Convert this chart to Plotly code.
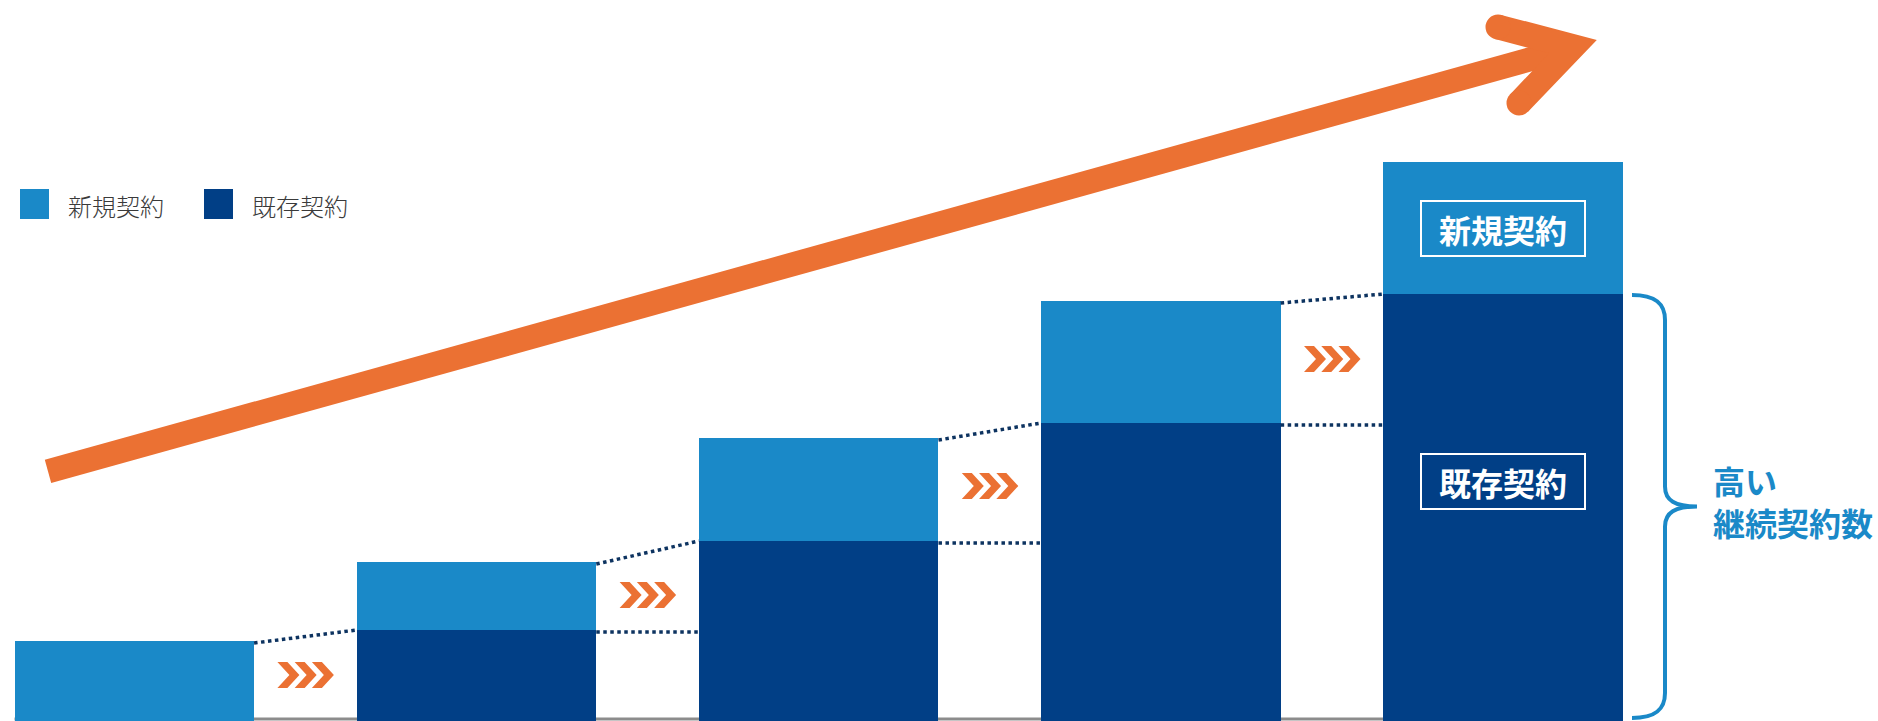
import plotly.graph_objects as go

# ---- data ----
stages = ["1", "2", "3", "4", "5"]
existing = [0, 91, 180, 298, 427]      # 既存契約
new = [80, 68, 103, 122, 132]          # 新規契約
legend_labels = ["新規契約", "既存契約"]
bar_labels = ["新規契約", "既存契約"]
brace_label = "高い<br>継続契約数"

# ---- style / layout constants ----
W, H = 1878, 721
LIGHT = "#1A89C8"
DARK = "#013F86"
ORANGE = "#EB7133"
DOT = "#0D3360"
FONT = "Noto Sans CJK JP"
BAR_W = 0.7
X0_PX, STEP_PX = 134.3, 342.2
chevron_y = [46, 126, 235, 362]

def px(x):
    return x / W

def py(y):
    return 1 - y / H

def P(x, y):
    return f"{px(x):.6f},{py(y):.6f}"

fig = go.Figure()
fig.add_trace(go.Bar(x=list(range(5)), y=existing, name=legend_labels[1],
                     marker=dict(color=DARK, line=dict(width=0)), width=BAR_W,
                     hoverinfo="skip"))
fig.add_trace(go.Bar(x=list(range(5)), y=new, name=legend_labels[0],
                     marker=dict(color=LIGHT, line=dict(width=0)), width=BAR_W,
                     hoverinfo="skip"))

shapes = []
annotations = []
half = BAR_W / 2
totals = [e + n for e, n in zip(existing, new)]

# baseline
shapes.append(dict(type="line", xref="x", yref="y", x0=-half, x1=len(stages) - 1 + half,
                   y0=2, y1=2, line=dict(color="#8C8C8C", width=3), layer="below"))

# dotted connectors
for i in range(len(stages) - 1):
    shapes.append(dict(type="line", xref="x", yref="y", x0=i + half, x1=i + 1 - half,
                       y0=totals[i] - 2, y1=existing[i + 1],
                       line=dict(color=DOT, width=3.5, dash="3.5px,3.5px")))
    if existing[i] > 0:
        shapes.append(dict(type="line", xref="x", yref="y", x0=i + half, x1=i + 1 - half,
                           y0=existing[i] - 2, y1=existing[i] - 2,
                           line=dict(color=DOT, width=3.5, dash="3.5px,3.5px")))

# chevrons ">>>"
for i in range(len(stages) - 1):
    parts = []
    for k in range(3):
        ox = -28 + 17.25 * k
        pts = [(ox, 13), (ox + 10, 13), (ox + 22, 0), (ox + 10, -13), (ox, -13), (ox + 12, 0)]
        parts.append("M" + " L".join(f"{a:.2f},{b:.2f}" for a, b in pts) + " Z")
    shapes.append(dict(type="path", xref="x", yref="y", xsizemode="pixel", ysizemode="pixel",
                       xanchor=i + 0.5, yanchor=chevron_y[i], path=" ".join(parts),
                       fillcolor=ORANGE, line=dict(width=0)))

# big orange arrow (decoration, pixel geometry)
slope = -0.278
def cy(x):
    return 95.5 + slope * (x - 1400)
nx, ny = 0.2678, 0.9635
h = 12
c0 = (48, cy(48))
c1 = (1562, cy(1562))
shaft = [(c0[0] - h * nx, c0[1] - h * ny), (c1[0] - h * nx, c1[1] - h * ny),
         (c1[0] + h * nx, c1[1] + h * ny), (c0[0] + h * nx, c0[1] + h * ny)]
shapes.append(dict(type="path", xref="paper", yref="paper",
                   path="M" + " L".join(P(*p) for p in shaft) + " Z",
                   fillcolor=ORANGE, line=dict(width=0)))
head = [(1501.2, 14.9), (1596.8, 39.9), (1528.0, 111.7), (1510.0, 94.4), (1549.2, 53.3), (1494.9, 39.1)]
shapes.append(dict(type="path", xref="paper", yref="paper",
                   path="M" + " L".join(P(*p) for p in head) + " Z",
                   fillcolor=ORANGE, line=dict(width=0)))
for ex, ey in [(1498, 27), (1519, 103)]:
    r = 12.5
    shapes.append(dict(type="circle", xref="paper", yref="paper",
                       x0=px(ex - r), x1=px(ex + r), y0=py(ey + r), y1=py(ey - r),
                       fillcolor=ORANGE, line=dict(width=0)))

# curly brace from top of existing (last bar) to base
top = existing[-1] - 1
bot = 3
mid = (top + bot) / 2
xa, xb, xc = px(1632), px(1665), px(1697)
brace = (f"M{xa},{top} C{px(1655)},{top} {xb},{top - 8} {xb},{top - 25} "
         f"L{xb},{mid + 20} C{xb},{mid + 6} {px(1675)},{mid} {xc},{mid} "
         f"C{px(1675)},{mid} {xb},{mid - 6} {xb},{mid - 20} "
         f"L{xb},{bot + 25} C{xb},{bot + 8} {px(1655)},{bot} {xa},{bot}")
shapes.append(dict(type="path", xref="paper", yref="y", path=brace,
                   line=dict(color=LIGHT, width=4)))
annotations.append(dict(xref="paper", yref="y", x=px(1711), y=mid + 6, xanchor="left",
                        yanchor="middle", align="left", showarrow=False, text=brace_label,
                        font=dict(family=FONT, size=32, color=LIGHT, weight="bold")))

# labels inside the last bar
last = len(stages) - 1
annotations.append(dict(xref="x", yref="y", x=last, y=existing[-1] + new[-1] / 2,
                        text=bar_labels[0], showarrow=False, width=162, height=53,
                        bordercolor="white", borderwidth=2, borderpad=0,
                        font=dict(family=FONT, size=32, color="white", weight="bold")))
annotations.append(dict(xref="x", yref="y", x=last, y=existing[-1] * 0.56,
                        text=bar_labels[1], showarrow=False, width=162, height=53,
                        bordercolor="white", borderwidth=2, borderpad=0,
                        font=dict(family=FONT, size=32, color="white", weight="bold")))

# custom legend
for (x0, col, lab) in [(20, LIGHT, legend_labels[0]), (204, DARK, legend_labels[1])]:
    shapes.append(dict(type="rect", xref="paper", yref="paper", x0=px(x0), x1=px(x0 + 29),
                       y0=py(219), y1=py(189), fillcolor=col, line=dict(width=0)))
    annotations.append(dict(xref="paper", yref="paper", x=px(x0 + 46), y=py(205),
                            xanchor="left", yanchor="middle", showarrow=False, text=lab,
                            font=dict(family=FONT, size=24, color="#3A3A3A", weight=300)))

fig.update_layout(
    width=W, height=H, margin=dict(l=0, r=0, t=0, b=0),
    barmode="stack", showlegend=False, bargap=0,
    paper_bgcolor="white", plot_bgcolor="white",
    xaxis=dict(visible=False, range=[-X0_PX / STEP_PX, (W - X0_PX) / STEP_PX], fixedrange=True),
    yaxis=dict(visible=False, range=[0, H], fixedrange=True),
    shapes=shapes, annotations=annotations,
)

fig.write_html("out.html", config={"displayModeBar": False, "staticPlot": True},
               post_script="document.body.style.margin='0';document.body.style.overflow='hidden';")
